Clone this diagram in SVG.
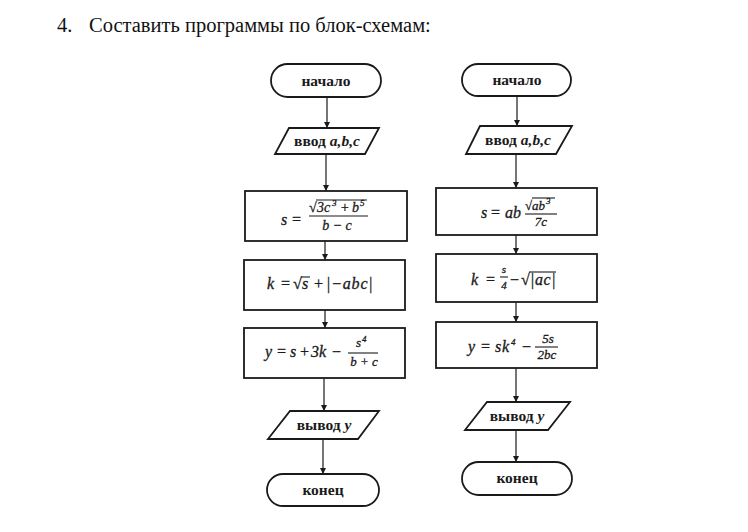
<svg xmlns="http://www.w3.org/2000/svg" width="748" height="532" viewBox="0 0 748 532">
<style>
.shape{fill:#fff;stroke:#1a1a1a;stroke-width:1.8}
.lbl{font-family:"Liberation Serif","DejaVu Serif",serif;font-weight:bold;font-size:15.5px;fill:#1a1a1a;text-anchor:middle}
.m{font-family:"Liberation Serif","DejaVu Serif",serif;font-style:italic;font-size:16px;fill:#1a1a1a;stroke:#1a1a1a;stroke-width:0.3}
.n{font-size:14px}
.f{font-size:13px}
.xs{font-size:11px}
.sup{font-size:9px}
.mid{text-anchor:middle}
.bar{stroke:#1a1a1a;stroke-width:1.1}
.con line{stroke:#1a1a1a;stroke-width:1.2;marker-end:url(#ah)}
.title{font-family:"Liberation Serif","Times New Roman",serif;font-size:20.5px;fill:#111}
</style>
<defs>
<marker id="ah" markerWidth="6" markerHeight="8" refX="6" refY="4" orient="auto" markerUnits="userSpaceOnUse">
<path d="M0,1 L6,4 L0,7 Z" fill="#1a1a1a"/>
</marker>
</defs>
<rect width="748" height="532" fill="#fff"/>
<text class="title" x="57" y="32">4.</text>
<text class="title" x="89" y="32">Составить программы по блок-схемам:</text>

<g id="connectors" class="con">
<line x1="327" y1="97" x2="327" y2="128"/>
<line x1="326" y1="154" x2="326" y2="191"/>
<line x1="325" y1="241" x2="325" y2="260"/>
<line x1="325" y1="310" x2="325" y2="328"/>
<line x1="324" y1="378" x2="324" y2="411"/>
<line x1="323" y1="439" x2="323" y2="474"/>
<line x1="517" y1="96" x2="517" y2="126"/>
<line x1="516" y1="154" x2="516" y2="188"/>
<line x1="516" y1="235" x2="516" y2="254"/>
<line x1="516" y1="302" x2="516" y2="322"/>
<line x1="516" y1="368" x2="516" y2="402"/>
<line x1="516" y1="430" x2="516" y2="462"/>
</g>

<!-- Left column -->
<g id="L-start">
<rect class="shape" x="271" y="64" width="110" height="33" rx="16.5"/>
<text class="lbl" x="326" y="86">начало</text>
</g>
<g id="L-input">
<polygon class="shape" points="289,128 379,128 365,154 275,154"/>
<text class="lbl" x="327" y="146">ввод <tspan font-style="italic">a,b,c</tspan></text>
</g>
<g id="L-s">
<rect class="shape" x="245" y="191" width="162" height="50"/>
<text class="m" x="281" y="225">s</text>
<text class="m" x="291" y="225">=</text>
<text class="m n" x="309" y="212">√</text>
<line class="bar" x1="316" y1="200" x2="367" y2="200"/>
<text class="m n" x="317" y="212">3c</text>
<text class="m sup" x="332" y="206">3</text>
<text class="m n" x="340" y="212">+</text>
<text class="m n" x="352" y="212">b</text>
<text class="m sup" x="360" y="206">5</text>
<line class="bar" x1="309" y1="216" x2="368" y2="216"/>
<text class="m n mid" x="337" y="230">b − c</text>
</g>
<g id="L-k">
<rect class="shape" x="244" y="260" width="161" height="50"/>
<text class="m" x="267" y="289">k</text>
<text class="m" x="280" y="289">=</text>
<text class="m" x="293" y="289">√</text>
<line class="bar" x1="301" y1="277" x2="310" y2="277"/>
<text class="m" x="302" y="289">s</text>
<text class="m" x="313" y="289">+</text>
<text class="m" x="326" y="289" letter-spacing="0.8">|−abc|</text>
</g>
<g id="L-y">
<rect class="shape" x="244" y="328" width="161" height="50"/>
<text class="m" x="265" y="357">y</text>
<text class="m" x="276" y="357">=</text>
<text class="m" x="290" y="357">s</text>
<text class="m" x="299" y="357">+</text>
<text class="m" x="311" y="357">3k</text>
<text class="m" x="331" y="357">−</text>
<text class="m f" x="356" y="347">s</text>
<text class="m sup" x="362" y="342">4</text>
<line class="bar" x1="348" y1="353" x2="378" y2="353"/>
<text class="m f mid" x="364" y="366">b + c</text>
</g>
<g id="L-output">
<polygon class="shape" points="290,411 379,411 358,439 268,439"/>
<text class="lbl" x="324" y="430">вывод <tspan font-style="italic">y</tspan></text>
</g>
<g id="L-end">
<rect class="shape" x="267" y="474" width="112" height="32" rx="16"/>
<text class="lbl" x="323" y="495">конец</text>
</g>

<!-- Right column -->
<g id="R-start">
<rect class="shape" x="462" y="64" width="109" height="32" rx="16"/>
<text class="lbl" x="517" y="85">начало</text>
</g>
<g id="R-input">
<polygon class="shape" points="480,126 572,126 556,154 466,154"/>
<text class="lbl" x="518" y="145">ввод <tspan font-style="italic">a,b,c</tspan></text>
</g>
<g id="R-s">
<rect class="shape" x="436" y="188" width="161" height="47"/>
<text class="m" x="481" y="218">s</text>
<text class="m" x="490" y="218">=</text>
<text class="m" x="505" y="218">ab</text>
<text class="m f" x="525" y="210">√</text>
<line class="bar" x1="532" y1="198" x2="555" y2="198"/>
<text class="m f" x="532" y="210">ab</text>
<text class="m sup" x="546" y="204">3</text>
<line class="bar" x1="525" y1="214" x2="557" y2="214"/>
<text class="m f mid" x="541" y="226">7c</text>
</g>
<g id="R-k">
<rect class="shape" x="436" y="254" width="161" height="48"/>
<text class="m" x="471" y="285">k</text>
<text class="m" x="485" y="285">=</text>
<text class="m xs mid" x="504" y="273">s</text>
<line class="bar" x1="500" y1="277" x2="508" y2="277"/>
<text class="m xs mid" x="504" y="289">4</text>
<text class="m" x="509" y="285">−</text>
<text class="m" x="521" y="285">√</text>
<line class="bar" x1="529" y1="272" x2="556" y2="272"/>
<text class="m" x="530" y="285" letter-spacing="0.6">|ac|</text>
</g>
<g id="R-y">
<rect class="shape" x="436" y="322" width="161" height="46"/>
<text class="m" x="468" y="352">y</text>
<text class="m" x="480" y="352">=</text>
<text class="m" x="495" y="352" letter-spacing="0.8">sk</text>
<text class="m sup" x="511" y="345">4</text>
<text class="m" x="521" y="352">−</text>
<text class="m f mid" x="548" y="343">5s</text>
<line class="bar" x1="535" y1="347" x2="558" y2="347"/>
<text class="m f mid" x="547" y="359">2bc</text>
</g>
<g id="R-output">
<polygon class="shape" points="487,402 570,402 548,430 465,430"/>
<text class="lbl" x="517" y="421">вывод <tspan font-style="italic">y</tspan></text>
</g>
<g id="R-end">
<rect class="shape" x="462" y="462" width="110" height="33" rx="16.5"/>
<text class="lbl" x="517" y="483">конец</text>
</g>
</svg>
